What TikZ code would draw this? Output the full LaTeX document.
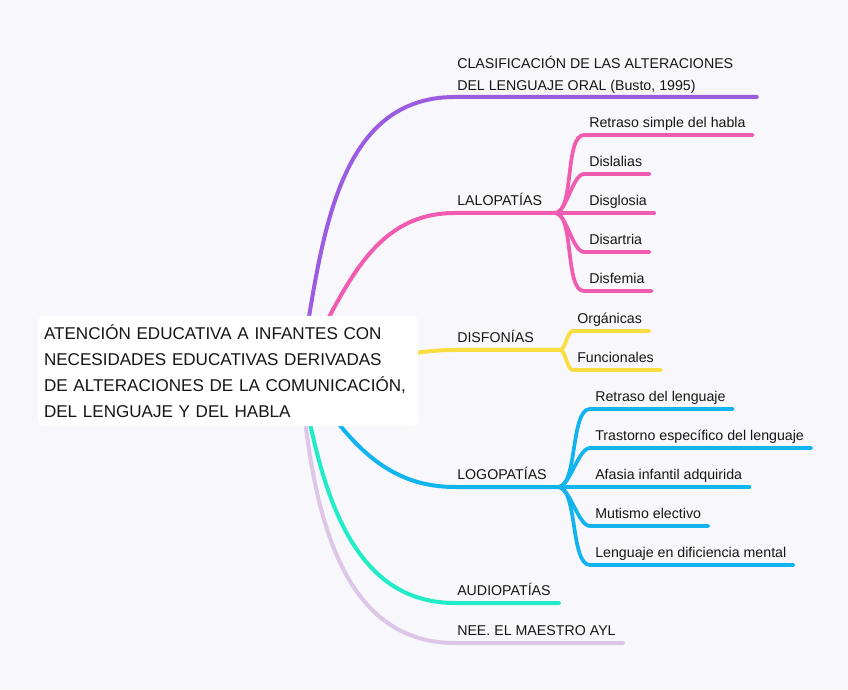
\documentclass[tikz,border=0pt]{standalone}
\usepackage{fontspec}
\setmainfont{Liberation Sans}
\usetikzlibrary{calc,positioning,backgrounds}
\definecolor{mapbg}{RGB}{248,247,252}
\definecolor{maptext}{RGB}{22,22,22}
\definecolor{mappurple}{RGB}{155,92,226}
\definecolor{mappink}{RGB}{240,92,176}
\definecolor{mapyellow}{RGB}{250,222,64}
\definecolor{mapblue}{RGB}{18,180,240}
\definecolor{mapteal}{RGB}{32,236,200}
\definecolor{maplilac}{RGB}{222,198,232}

\tikzset{
  centraltopic/.style={fill=white, rounded corners=4.5pt, text width=276pt, inner xsep=4.5pt,
    minimum height=82.5pt, align=left, text=maptext, font=\fontsize{12.8}{19.5}\selectfont},
  topic/.style={anchor=south west, inner xsep=1.5pt, inner ysep=5.25pt, text depth=0pt,
    align=left, text=maptext, font=\fontsize{10.65}{16.5}\selectfont},
  leaf/.style={anchor=south west, inner xsep=5.25pt, inner ysep=5.25pt, text depth=0pt,
    text=maptext, font=\fontsize{10.65}{16.5}\selectfont},
  branch/.style={line width=3pt, line cap=round},
  twig/.style={line width=2.8pt, line cap=round},
}

\begin{document}
\begin{tikzpicture}[x=0.75pt, y=0.75pt]
  % central topic
  \node[centraltopic] (root) at (228,318) {ATENCIÓN EDUCATIVA A INFANTES CON\\NECESIDADES EDUCATIVAS DERIVADAS\\DE ALTERACIONES DE LA COMUNICACIÓN,\\DEL LENGUAJE Y DEL HABLA};
  \coordinate (hub) at ([xshift=54pt]root.center);

  % main topics
  \node[topic, text depth=, inner ysep=2.6pt] (clasif) at (455,592) {CLASIFICACIÓN DE LAS ALTERACIONES\\DEL LENGUAJE ORAL (Busto, 1995)};
  \node[topic] (lalo) at (455,476) {LALOPATÍAS};
  \node[topic] (disf) at (455,339) {DISFONÍAS};
  \node[topic] (logo) at (455,202) {LOGOPATÍAS};
  \node[topic] (audio) at (455,86) {AUDIOPATÍAS};
  \node[topic] (nee) at (455,46) {NEE. EL MAESTRO AYL};
  \coordinate (lalo fork) at (555,476);
  \coordinate (disf fork) at (560,339);
  \coordinate (logo fork) at (558,202);

  % lalopatias
  \node[leaf] (retraso) at (582,554) {Retraso simple del habla};
  \node[leaf] (dislalias) at (582,515) {Dislalias};
  \node[leaf] (disglosia) at (582,476) {Disglosia};
  \node[leaf] (disartria) at (582,437) {Disartria};
  \node[leaf] (disfemia) at (582,398) {Disfemia};

  % disfonias
  \node[leaf] (organicas) at (570,358) {Orgánicas};
  \node[leaf] (funcionales) at (570,319) {Funcionales};

  % logopatias
  \node[leaf] (retrasoleng) at (588,280) {Retraso del lenguaje};
  \node[leaf] (tel) at (588,241) {Trastorno específico del lenguaje};
  \node[leaf] (afasia) at (588,202) {Afasia infantil adquirida};
  \node[leaf] (mutismo) at (588,163) {Mutismo electivo};
  \node[leaf] (dificiencia) at (588,124) {Lenguaje en dificiencia mental};

  \begin{scope}[on background layer]
    \fill[mapbg] (0,0) rectangle (848,689);
    \draw[branch, mappurple] (hub) to[out=80,in=180] (clasif.south west) -- ([xshift=16pt]clasif.south east);
    \draw[branch, mappink] (hub) to[out=60,in=180] (lalo.south west) -- (lalo fork);
    \draw[branch, mapyellow] (hub) to[out=0,in=180] (disf.south west) -- (disf fork);
    \draw[branch, mapblue] (hub) to[out=-55,in=180] (logo.south west) -- (logo fork);
    \draw[branch, mapteal] (hub) to[out=-80,in=180] (audio.south west) -- ([xshift=4.5pt]audio.south east);
    \draw[branch, maplilac] (hub) to[out=-85,in=180] (nee.south west) -- ([xshift=3.75pt]nee.south east);

    \foreach \n in {retraso,dislalias,disglosia,disartria,disfemia}
      \draw[twig, mappink] (lalo fork) to[out=0,in=180,looseness=0.6] ([xshift=1.5pt]\n.south west) -- (\n.south east);
    \foreach \n in {organicas,funcionales}
      \draw[twig, mapyellow] (disf fork) to[out=0,in=180,looseness=0.6] ([xshift=2pt]\n.south west) -- (\n.south east);
    \foreach \n in {retrasoleng,tel,afasia,mutismo,dificiencia}
      \draw[twig, mapblue] (logo fork) to[out=0,in=180,looseness=0.6] ([xshift=1.5pt]\n.south west) -- (\n.south east);
  \end{scope}
\end{tikzpicture}
\end{document}
